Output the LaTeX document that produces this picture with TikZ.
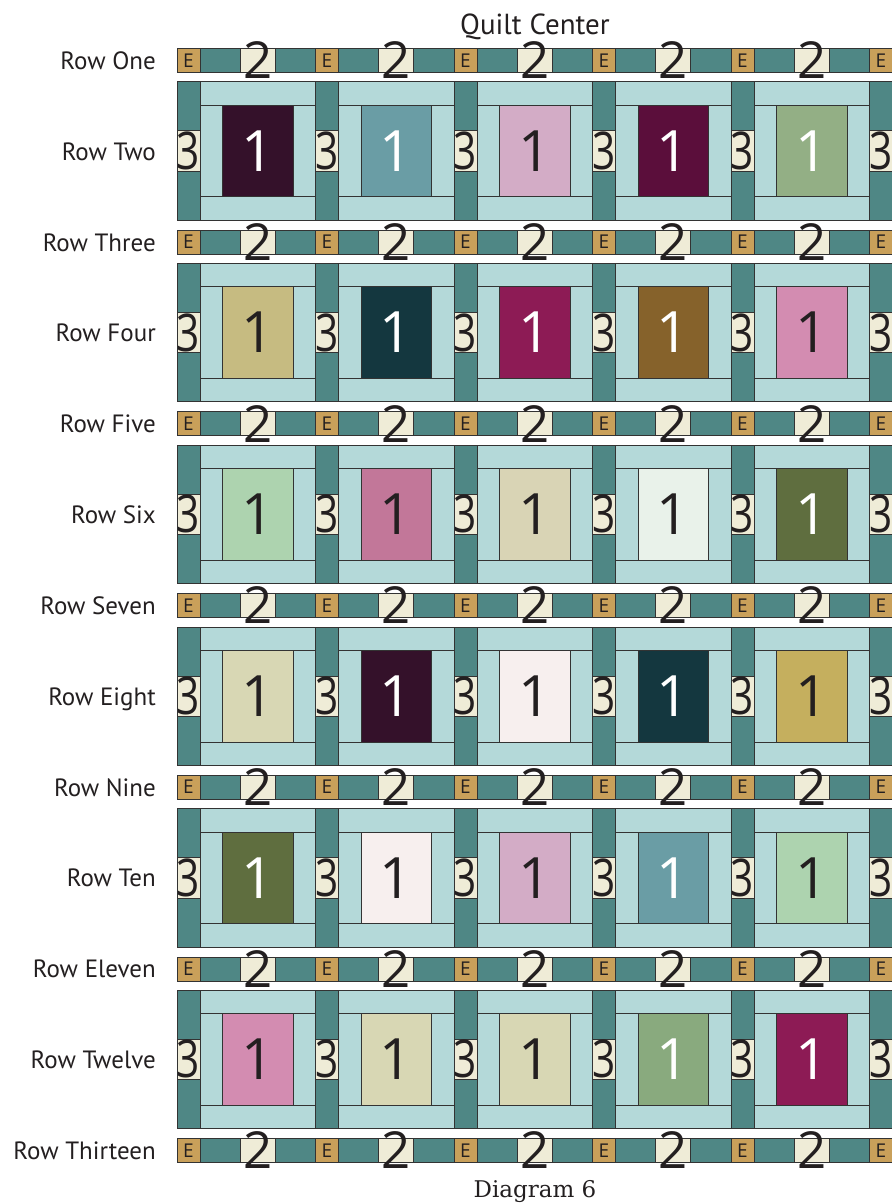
\documentclass[tikz,border=0pt]{standalone}
\usepackage{fontspec}
\newfontfamily\quiltsans{PT Sans}
\newfontfamily\piecefont{Open Sans}
\newfontfamily\captionserif{DejaVu Serif}
\usepackage{xcolor}
\usetikzlibrary{positioning}
\definecolor{seam}{HTML}{333333}
\definecolor{ink}{HTML}{231F20}
\definecolor{sashteal}{HTML}{4F8785}
\definecolor{logaqua}{HTML}{B4D9D9}
\definecolor{creampiece}{HTML}{EFECD7}
\definecolor{cornergold}{HTML}{C9A05A}
\definecolor{plum}{HTML}{34112A}
\definecolor{slate}{HTML}{6A9DA5}
\definecolor{mauve}{HTML}{D3ACC6}
\definecolor{wine}{HTML}{5B0E3B}
\definecolor{sage}{HTML}{93AF85}
\definecolor{khaki}{HTML}{C6BB81}
\definecolor{navy}{HTML}{14373F}
\definecolor{berry}{HTML}{8D1B55}
\definecolor{brown}{HTML}{86622B}
\definecolor{pink}{HTML}{D38CB1}
\definecolor{mint}{HTML}{ADD3AF}
\definecolor{rose}{HTML}{C27799}
\definecolor{beige}{HTML}{D9D4B5}
\definecolor{ice}{HTML}{E9F2EA}
\definecolor{olive}{HTML}{5F6E3F}
\definecolor{linen}{HTML}{D8D7B4}
\definecolor{blush}{HTML}{F7EFEE}
\definecolor{mustard}{HTML}{C5AF5E}
\definecolor{fern}{HTML}{89AA7E}

\begin{document}
\begin{tikzpicture}[
	x=1pt, y=-1pt,
	patch/.style={draw=seam, line width=0.6pt},
	sashing/.style={patch, fill=sashteal},
	logstrip/.style={patch, fill=logaqua},
	cornerstone/.style={patch, fill=cornergold},
	cream/.style={patch, fill=creampiece},
	piecenum/.style={inner sep=0pt, text=ink, font=\piecefont\fontsize{#1}{#1}\selectfont},
	rowlabel/.style={anchor=base east, inner sep=0pt, text=ink, font=\quiltsans\fontsize{25}{25}\selectfont}
	]
	\useasboundingbox (0,0) rectangle (892,1203);
	
	% log cabin blocks
	\foreach \fillc/\numc [count=\n from 0] in {
		plum/white, slate/white, mauve/ink, wine/white, sage/white,
		khaki/ink, navy/white, berry/white, brown/white, pink/ink,
		mint/ink, rose/ink, beige/ink, ice/ink, olive/white,
		linen/ink, plum/white, blush/ink, navy/white, mustard/ink,
		olive/white, blush/ink, mauve/ink, slate/white, mint/ink,
		pink/ink, linen/ink, linen/ink, fern/white, berry/white}{
		\pgfmathtruncatemacro{\k}{floor(\n/5)}
		\pgfmathtruncatemacro{\j}{mod(\n,5)}
		\pgfmathsetmacro{\yt}{81.7+181.7*\k}
		\pgfmathsetmacro{\xl}{200+138.5*\j}
		\draw[logstrip] (\xl,\yt) rectangle ++(115.5,23.3);
		\draw[logstrip] (\xl,\yt+115) rectangle ++(115.5,23.3);
		\draw[logstrip] (\xl,\yt+23.3) rectangle ++(22.5,91.7);
		\draw[logstrip] (\xl+93,\yt+23.3) rectangle ++(22.5,91.7);
		\draw[patch, fill=\fillc] (\xl+22.5,\yt+23.3) rectangle ++(70.5,91.7);
		\node[piecenum=57, text=\numc] (one-\k-\j) at (\xl+57.75,\yt+69.15) {1};
	}
	
	% vertical sashing
	\foreach \k in {0,...,5}{
		\pgfmathsetmacro{\yt}{81.7+181.7*\k}
		\foreach \j in {0,...,5}{
			\pgfmathsetmacro{\xl}{177+138.5*\j}
			\draw[sashing] (\xl,\yt) rectangle ++(23,138.3);
			\draw[cream] (\xl,\yt+49) rectangle ++(23,40.3);
			\node[piecenum=52] (three-\k-\j) at (\xl+11.5,\yt+69.15) {\scalebox{0.78}[1]{3}};
		}
	}
	
	% sashing rows
	\foreach \k in {0,...,6}{
		\pgfmathsetmacro{\yt}{48.3+181.7*\k}
		\foreach \j in {0,...,5}{
			\pgfmathsetmacro{\xl}{177+138.5*\j}
			\draw[cornerstone] (\xl,\yt) rectangle ++(23,24);
			\node[piecenum=19] (E-\k-\j) at (\xl+11.5,\yt+12) {E};
		}
		\foreach \j in {0,...,4}{
			\pgfmathsetmacro{\xl}{200+138.5*\j}
			\draw[sashing] (\xl,\yt) rectangle ++(115.5,24);
			\draw[cream] (\xl+40.25,\yt) rectangle ++(35,24);
			\node[piecenum=51] (two-\k-\j) at (\xl+57.75,\yt+12) {2};
		}
	}
	
	% labels
	\foreach \name [count=\r from 0] in {One,Two,Three,Four,Five,Six,Seven,Eight,Nine,Ten,Eleven,Twelve,Thirteen}
		\node[rowlabel] (label-\r) at (156,{69.3+90.85*\r}) {Row \name};
	
	\node[anchor=base, inner sep=0pt, text=ink, font=\quiltsans\fontsize{29}{29}\selectfont] (title) at (535,34) {Quilt Center};
	\node[anchor=base, inner sep=0pt, text=ink, font=\captionserif\fontsize{23}{23}\selectfont] (caption) at (535,1197) {Diagram 6};
	
\end{tikzpicture}
\end{document}
